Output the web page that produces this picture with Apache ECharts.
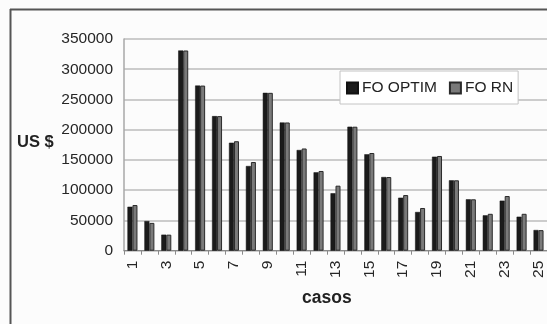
<!DOCTYPE html>
<html>
<head>
<meta charset="utf-8">
<script src="https://cdn.jsdelivr.net/npm/echarts@6/dist/echarts.min.js"></script>
<style>
html,body{margin:0;padding:0;background:#fcfcfc;}
#chart{width:547px;height:324px;}
</style>
</head>
<body>
<div id="chart"></div>
<script>
const categories = ['1','2','3','4','5','6','7','8','9','10','11','12','13','14','15','16','17','18','19','20','21','22','23','24','25'];
const foOptim = [72700, 49000, 26500, 331000, 273000, 222500, 178500, 140000, 261000, 212000, 166500, 129600, 95000, 205000, 159400, 121800, 87600, 64000, 155400, 116400, 85000, 58500, 82700, 56200, 34200];
const foRN = [75500, 46000, 26500, 331000, 273000, 222500, 181000, 146600, 261000, 212000, 169000, 131800, 107500, 205000, 161500, 121800, 92000, 70600, 156600, 116400, 85000, 61000, 90400, 61000, 34000];
const seriesNames = ['FO OPTIM', 'FO RN'];
const yTicks = { min: 0, max: 350000, interval: 50000 };

const chart = echarts.init(document.getElementById('chart'), null, {renderer: 'canvas'});
const font = 'Liberation Sans, Arial, sans-serif';
chart.setOption({
  backgroundColor: '#fcfcfc',
  animation: false,
  grid: { left: 124, top: 39, right: -2, bottom: 73.3, containLabel: false },
  legend: {
    left: 340, top: 71,
    orient: 'horizontal',
    padding: [9, 5, 8, 6],
    itemWidth: 11, itemHeight: 11, itemGap: 12,
    backgroundColor: '#ffffff',
    borderColor: '#c4c4c4', borderWidth: 1,
    textStyle: { fontFamily: font, fontSize: 15.5, color: '#222', padding: [0,0,0,-1] },
    data: [
      { name: seriesNames[0], icon: 'rect' },
      { name: seriesNames[1], icon: 'rect' }
    ]
  },
  xAxis: {
    type: 'category',
    data: categories,
    boundaryGap: true,
    axisLine: { show: true, lineStyle: { color: '#8a8a8a', width: 1 } },
    axisTick: { show: true, interval: 0, length: 4, lineStyle: { color: '#8a8a8a' } },
    axisLabel: { interval: 1, rotate: 90, margin: 10, fontFamily: font, fontSize: 15.5, color: '#262626' },
    splitLine: { show: false }
  },
  yAxis: {
    type: 'value',
    min: yTicks.min, max: yTicks.max, interval: yTicks.interval,
    axisLine: { show: true, lineStyle: { color: '#a8a8a8', width: 1.5 } },
    axisTick: { show: false },
    axisLabel: { margin: 11, fontFamily: font, fontSize: 15.5, color: '#262626', formatter: function (v) { return String(v); } },
    splitLine: { show: true, lineStyle: { color: '#bdbdbd', width: 1.5 } }
  },
  series: [
    {
      name: seriesNames[0], type: 'bar', data: foOptim,
      barWidth: 5, barGap: '0%',
      itemStyle: { color: '#1b1b1b', borderColor: '#111', borderWidth: 0.5 }
    },
    {
      name: seriesNames[1], type: 'bar', data: foRN,
      barWidth: 5,
      itemStyle: { color: '#7a7a7a', borderColor: '#2a2a2a', borderWidth: 1 }
    }
  ],
  graphic: [
    { type: 'line', shape: { x1: 10, y1: 9.5, x2: 547, y2: 9.5 }, style: { stroke: '#555', lineWidth: 2 } },
    { type: 'line', shape: { x1: 10.5, y1: 9, x2: 10.5, y2: 324 }, style: { stroke: '#555', lineWidth: 2 } },
    { type: 'text', left: 17, top: 134, style: { text: 'US $', font: 'bold 16.5px ' + font, fill: '#222' } },
    { type: 'text', left: 302, top: 289, style: { text: 'casos', font: 'bold 17.5px ' + font, fill: '#222' } }
  ]
});
</script>
</body>
</html>
